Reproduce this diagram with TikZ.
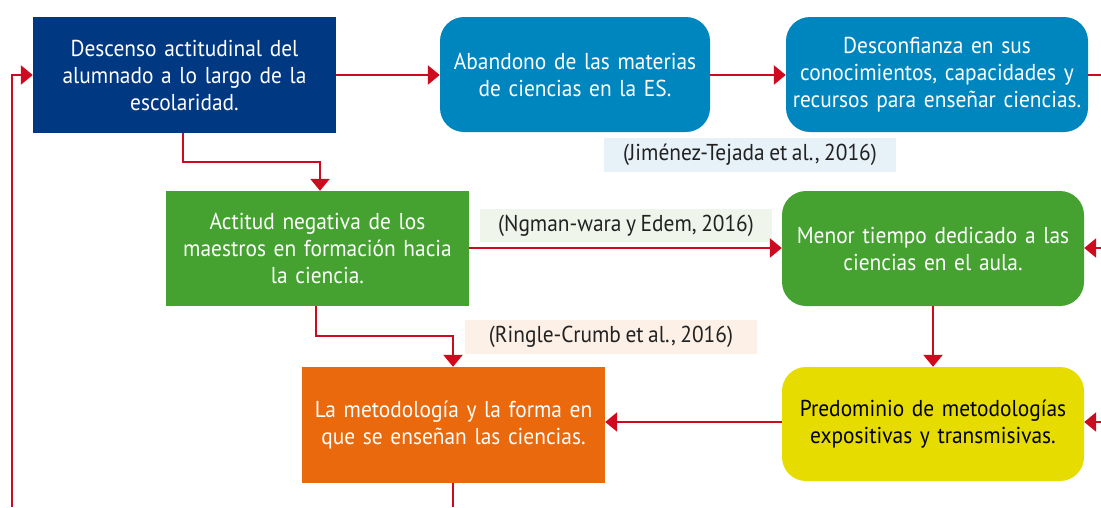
\documentclass[tikz,border=0pt]{standalone}
\usepackage{fontspec}
\setmainfont{PT Sans}[FakeStretch=0.93,WordSpace=0.8]
\usetikzlibrary{arrows.meta}
\definecolor{dblue}{HTML}{003882}
\definecolor{mblue}{HTML}{0086BF}
\definecolor{mgreen}{HTML}{45A230}
\definecolor{morange}{HTML}{E9690C}
\definecolor{myellow}{HTML}{E6DC00}
\definecolor{cred}{HTML}{CE0A21}
\definecolor{lblue}{HTML}{E6F1F8}
\definecolor{lgreen}{HTML}{EFF5EA}
\definecolor{lorange}{HTML}{FDF0E6}
\definecolor{ltext}{HTML}{222222}
\tikzset{
  box/.style={inner sep=0pt, align=center, text width=298pt, font=\fontsize{23}{27}\selectfont, text=white},
  sqbox/.style={box, rectangle},
  rbox/.style={box, rectangle, rounded corners=24pt},
  cite/.style={inner sep=0pt, align=center, font=\fontsize{23}{24}\selectfont, text=ltext, minimum width=292pt, minimum height=34pt},
  conn/.style={draw=cred, line width=2.7pt, -{Triangle[length=12pt,width=19pt]}},
  plain/.style={draw=cred, line width=2.7pt},
}
\begin{document}
\begin{tikzpicture}[x=1pt,y=-1pt]
\useasboundingbox (0,0) rectangle (1101,507);
\node[sqbox, fill=dblue, minimum width=303pt, minimum height=116pt] (A) at (184.5,75) {Descenso actitudinal del\\alumnado a lo largo de la\\escolaridad.};
\node[rbox, fill=mblue, minimum width=270pt, minimum height=115pt, text width=268pt] (B) at (575,74.5) {Abandono de las materias\\de ciencias en la ES.};
\node[rbox, fill=mblue, minimum width=302pt, minimum height=115pt] (C) at (937,74.5) {Desconfianza en sus\\conocimientos, capacidades y\\recursos para enseñar ciencias.};
\node[sqbox, fill=mgreen, minimum width=303pt, minimum height=115pt] (D) at (317.5,248.5) {Actitud negativa de los\\maestros en formación hacia\\la ciencia.};
\node[rbox, fill=mgreen, minimum width=302pt, minimum height=115pt] (E) at (933,248.5) {Menor tiempo dedicado a las\\ciencias en el aula.};
\node[sqbox, fill=morange, minimum width=303pt, minimum height=116pt] (F) at (453.5,425) {La metodología y la forma en\\que se enseñan las ciencias.};
\node[rbox, fill=myellow, minimum width=302pt, minimum height=114pt, text=black] (G) at (933,424) {Predominio de metodologías\\expositivas y transmisivas.};
\node[cite, fill=lblue] (L1) at (750,155) {(Jiménez-Tejada et al., 2016)};
\node[cite, fill=lgreen, minimum height=33pt] (L2) at (626,225.5) {(Ngman-wara y Edem, 2016)};
\node[cite, fill=lorange] (L3) at (611,337) {(Ringle-Crumb et al., 2016)};
\coordinate (Cout) at (1101,75);
\coordinate (Ein) at (1101,248);
\coordinate (Gin) at (1101,422);
\coordinate (Fout) at (453,507);
\coordinate (Lbot) at (12,507);
\draw[conn] (A.east |- 0,75) -- (B.west |- 0,75);
\draw[conn] (B.east |- 0,75) -- (C.west |- 0,75);
\draw[plain] (C.east |- 0,75) -- (Cout);
\draw[conn] (183,133) -- (183,162) -- (320,162) -- (D.north -| 320,0);
\draw[conn] (D.east |- 0,248) -- (E.west |- 0,248);
\draw[conn] (Ein) -- (E.east |- 0,248);
\draw[conn] (316,306) -- (316,336) -- (453,336) -- (F.north -| 453,0);
\draw[conn] (E.south) -- (G.north);
\draw[conn] (G.west |- 0,422) -- (F.east |- 0,422);
\draw[conn] (Gin) -- (G.east |- 0,422);
\draw[plain] (F.south -| 453,0) -- (Fout);
\draw[conn] (Lbot) -- (12,75) -- (A.west |- 0,75);
\end{tikzpicture}
\end{document}
